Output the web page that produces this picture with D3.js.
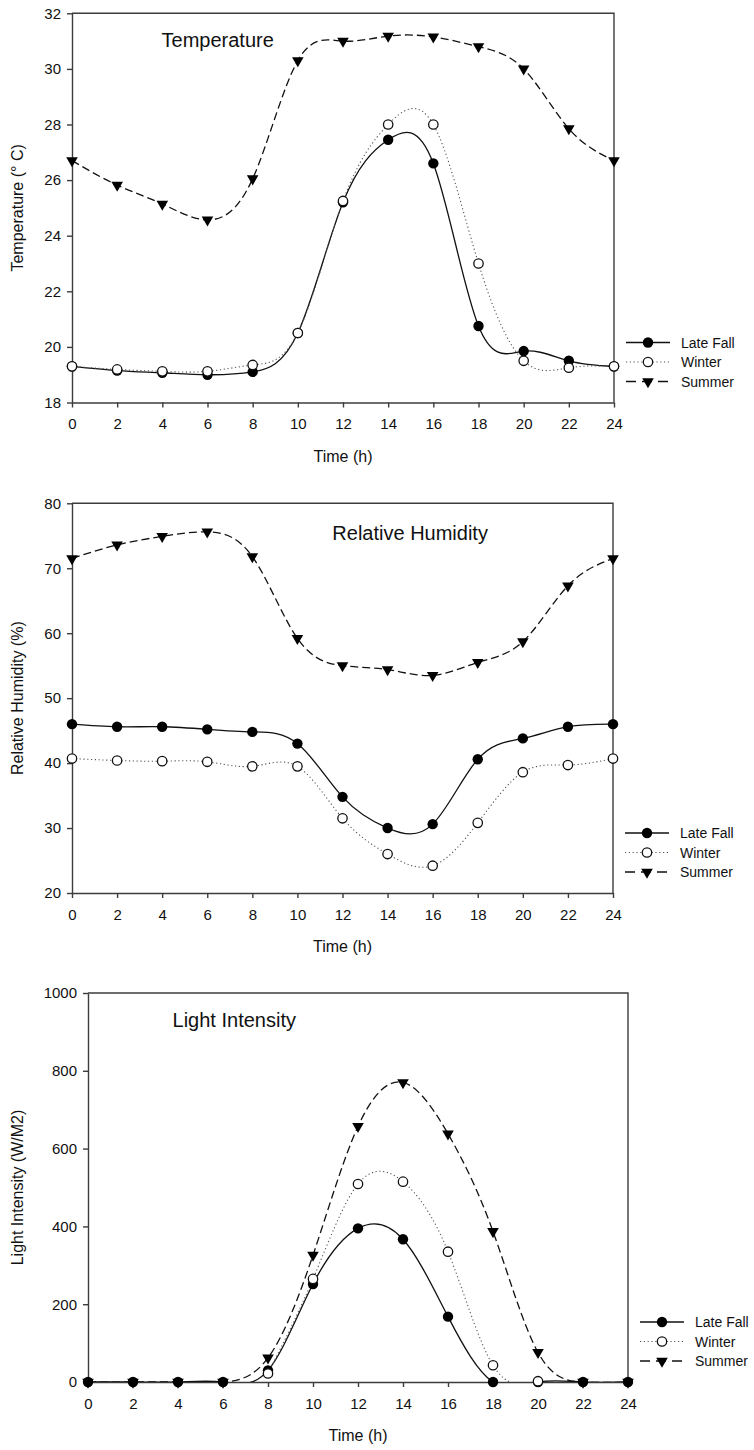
<!DOCTYPE html>
<html lang="en">
<head>
  <meta charset="UTF-8">
  <title>Diurnal climate</title>
  <script src="https://d3js.org/d3.v7.min.js"></script>
  <style>
    body { margin: 0; background: #fff; }
    svg { font-family: "Liberation Sans", Arial, sans-serif; }
    .axis .domain, .axis .tick line, .frame {
      fill: none;
      stroke: #3c3c3c;
      stroke-width: 1.4px;
    }
    .axis .tick text {
      font-size: 15px;
      fill: #111;
    }
    .axis-title { font-size: 16px; fill: #111; }
    .panel-title { font-size: 20px; fill: #111; }
    .legend text { font-size: 14px; fill: #111; }
  </style>
</head>
<body>
  <div id="chart"></div>
  <script>
    // hours of the day
    const hours = [0, 2, 4, 6, 8, 10, 12, 14, 16, 18, 20, 22, 24]
    const hourTicks = [0, 2, 4, 6, 8, 10, 12, 14, 16, 18, 20, 22, 24]

    // temperature (deg C)
    const tempLateFall = [19.3, 19.15, 19.07, 19.0, 19.1, 20.5, 25.2, 27.45, 26.6, 20.75, 19.85, 19.5, 19.3]
    const tempWinter   = [19.3, 19.19, 19.12, 19.12, 19.35, 20.5, 25.25, 28.0, 28.0, 23.0, 19.5, 19.25, 19.3]
    const tempSummer   = [26.7, 25.82, 25.14, 24.57, 26.05, 30.3, 31.0, 31.18, 31.15, 30.8, 30.0, 27.85, 26.7]
    const tempTicks = [18, 20, 22, 24, 26, 28, 30, 32]

    // relative humidity (%)
    const rhLateFall = [46.0, 45.6, 45.6, 45.2, 44.8, 43.0, 34.8, 30.0, 30.6, 40.6, 43.8, 45.6, 46.0]
    const rhWinter   = [40.7, 40.4, 40.3, 40.2, 39.5, 39.5, 31.5, 26.0, 24.2, 30.8, 38.6, 39.7, 40.7]
    const rhSummer   = [71.5, 73.6, 74.9, 75.6, 71.8, 59.2, 55.0, 54.4, 53.5, 55.5, 58.7, 67.3, 71.5]
    const rhTicks = [20, 30, 40, 50, 60, 70, 80]

    // light intensity (W/M2)
    const lightLateFall = [0, 0, 0, 0, 30, 252, 395, 367, 168, 0, 0, 0, 0]
    const lightWinter   = [null, null, null, null, 22, 265, 509, 515, 335, 43, 2, null, null]
    const lightSummer   = [0, 0, 0, 0, 62, 326, 657, 770, 638, 387, 76, 0, 0]
    const lightTicks = [0, 200, 400, 600, 800, 1000]

    const seriesNames = ["Late Fall", "Winter", "Summer"]

    const panels = [
      { title: "Temperature", yLabel: "Temperature (\u00b0 C)", ticks: tempTicks,
        values: [tempLateFall, tempWinter, tempSummer],
        left: 72, right: 614, top: 13.3, bottom: 402.5, titleHour: 6.45, titleDy: 34 },
      { title: "Relative Humidity", yLabel: "Relative Humidity (%)", ticks: rhTicks,
        values: [rhLateFall, rhWinter, rhSummer],
        left: 72, right: 613, top: 503.3, bottom: 893, titleHour: 15.0, titleDy: 37 },
      { title: "Light Intensity", yLabel: "Light Intensity (W/M2)", ticks: lightTicks,
        values: [lightLateFall, lightWinter, lightSummer],
        left: 88, right: 628, top: 993, bottom: 1382, titleHour: 6.5, titleDy: 34 }
    ]

    const styles = {
      "Late Fall": { dash: null, width: 1.3, color: "#111" },
      "Winter":    { dash: "1.2,2.6", width: 1.1, color: "#555" },
      "Summer":    { dash: "8,4", width: 1.3, color: "#111" }
    }

    const svg = d3.select("#chart").append("svg")
      .attr("width", 754)
      .attr("height", 1450)

    const triangle = d3.symbol(d3.symbolTriangle, 58)

    function drawMarker(g, name, cx, cy) {
      if (name == "Late Fall") {
        g.append("circle").attr("cx", cx).attr("cy", cy).attr("r", 5.2)
          .attr("fill", "#000")
      } else if (name == "Winter") {
        g.append("circle").attr("cx", cx).attr("cy", cy).attr("r", 4.7)
          .attr("fill", "#fff").attr("stroke", "#111").attr("stroke-width", 1.3)
      } else {
        g.append("path").attr("d", triangle())
          .attr("transform", `translate(${cx},${cy}) rotate(180)`)
          .attr("fill", "#000")
      }
    }

    function drawPanel(p, idx) {
      const x = d3.scaleLinear().domain([0, 24]).range([p.left, p.right])
      const y = d3.scaleLinear()
        .domain([p.ticks[0], p.ticks[p.ticks.length - 1]])
        .range([p.bottom, p.top])

      const g = svg.append("g")

      g.append("clipPath").attr("id", "clip" + idx)
        .append("rect")
        .attr("x", p.left).attr("y", p.top)
        .attr("width", p.right - p.left).attr("height", p.bottom - p.top)

      g.append("path").attr("class", "frame")
        .attr("d", `M${p.left},${p.top}H${p.right}V${p.bottom}`)

      g.append("g").attr("class", "axis")
        .attr("transform", `translate(0,${p.bottom})`)
        .call(d3.axisBottom(x).tickValues(hourTicks).tickSize(5).tickSizeOuter(0).tickPadding(11))

      g.append("g").attr("class", "axis")
        .attr("transform", `translate(${p.left},0)`)
        .call(d3.axisLeft(y).tickValues(p.ticks).tickFormat(d3.format("d"))
          .tickSize(5).tickSizeOuter(0).tickPadding(6))

      g.append("text").attr("class", "axis-title")
        .attr("text-anchor", "middle")
        .attr("x", (p.left + p.right) / 2)
        .attr("y", p.bottom + 59)
        .text("Time (h)")

      g.append("text").attr("class", "axis-title")
        .attr("text-anchor", "middle")
        .attr("transform", `translate(23,${(p.top + p.bottom) / 2}) rotate(-90)`)
        .text(p.yLabel)

      g.append("text").attr("class", "panel-title")
        .attr("text-anchor", "middle")
        .attr("x", x(p.titleHour))
        .attr("y", p.top + p.titleDy)
        .text(p.title)

      // draw order: summer, late fall, winter
      const order = [2, 0, 1]
      const lines = g.append("g").attr("clip-path", `url(#clip${idx})`)
      order.forEach(k => {
        const st = styles[seriesNames[k]]
        const line = d3.line()
          .defined(d => d != null)
          .x((d, i) => x(hours[i]))
          .y(d => y(d))
          .curve(d3.curveNatural)
        lines.append("path")
          .datum(p.values[k])
          .attr("d", line)
          .attr("fill", "none")
          .attr("stroke", st.color)
          .attr("stroke-width", st.width)
          .attr("stroke-dasharray", st.dash)
      })

      const marks = g.append("g")
      order.forEach(k => {
        p.values[k].forEach((v, i) => {
          if (v == null) return
          drawMarker(marks, seriesNames[k], x(hours[i]), y(v))
        })
      })

      // legend
      const legendDy = [-60, -40.5, -21]
      const lg = g.append("g").attr("class", "legend")
        .attr("transform", `translate(${p.right + 12},${p.bottom})`)
      seriesNames.forEach((name, k) => {
        const st = styles[name]
        const row = lg.append("g").attr("transform", `translate(0,${legendDy[k]})`)
        row.append("line")
          .attr("x1", 0).attr("x2", 44).attr("y1", 0).attr("y2", 0)
          .attr("stroke", st.color)
          .attr("stroke-width", st.width)
          .attr("stroke-dasharray", name == "Summer" ? "10,6" : st.dash)
        drawMarker(row, name, 22, 0)
        row.append("text")
          .attr("x", 55)
          .attr("y", 0)
          .attr("dy", "0.36em")
          .text(name)
      })
    }

    panels.forEach(drawPanel)
  </script>
</body>
</html>
